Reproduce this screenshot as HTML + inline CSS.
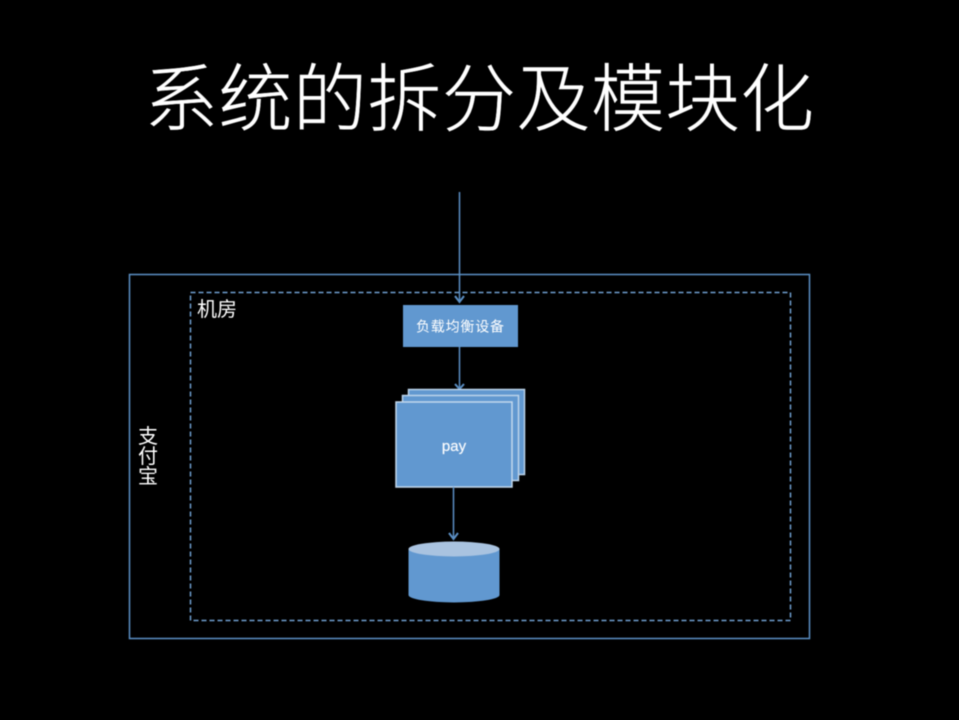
<!DOCTYPE html>
<html lang="zh">
<head>
<meta charset="utf-8">
<title>系统的拆分及模块化</title>
<style>
html,body{margin:0;padding:0;background:#000;width:959px;height:720px;overflow:hidden}
svg{display:block}
text{font-family:"Liberation Sans","Noto Sans CJK SC",sans-serif;fill:#fff}
</style>
</head>
<body>
<svg width="959" height="720" viewBox="0 0 959 720" xmlns="http://www.w3.org/2000/svg">
<rect width="959" height="720" fill="#000"/>
<g style="filter:blur(0.4px)">
<text x="144" y="125" font-size="74" font-weight="300" stroke="#fff" stroke-width="0.400" textLength="670" lengthAdjust="spacing">系统的拆分及模块化</text>

<rect x="129.500" y="274.500" width="680" height="364" fill="none" stroke="#5b8fc4" stroke-width="1.500"/>
<rect x="190.500" y="292.500" width="600" height="328" fill="none" stroke="#6f9fd0" stroke-width="1.500" stroke-dasharray="5 3"/>

<text x="197" y="316" font-size="20" fill="#f0f0f0">机房</text>
<text x="148" y="443" font-size="20" text-anchor="middle">支</text>
<text x="148" y="463" font-size="20" text-anchor="middle">付</text>
<text x="148" y="483" font-size="20" text-anchor="middle">宝</text>

<line x1="459.500" y1="192" x2="459.500" y2="302" stroke="#5b8fc4" stroke-width="1.500"/>
<path d="M455 296 L459.500 302 L464 296" fill="none" stroke="#5b8fc4" stroke-width="2"/>

<rect x="403" y="305" width="115" height="42" fill="#6198d0"/>
<text x="460" y="331.500" font-size="14" text-anchor="middle" fill="#f2f6fb" textLength="88" lengthAdjust="spacing">负载均衡设备</text>

<line x1="459.500" y1="347" x2="459.500" y2="389" stroke="#5b8fc4" stroke-width="1.500"/>
<path d="M455 384 L459.500 389 L464 384" fill="none" stroke="#5b8fc4" stroke-width="2"/>

<rect x="408.500" y="389.500" width="116" height="85" fill="#6198d0" stroke="#bcd3ea" stroke-width="1.500"/>
<rect x="402.500" y="395.500" width="116" height="85" fill="#6198d0" stroke="#bcd3ea" stroke-width="1.500"/>
<rect x="396" y="402" width="116" height="85" fill="#6198d0" stroke="#c3d8ec" stroke-width="1.500"/>
<text x="454" y="451" font-size="15" text-anchor="middle" fill="#f2f6fb" stroke="#f2f6fb" stroke-width="0.200">pay</text>

<line x1="453.500" y1="487" x2="453.500" y2="539" stroke="#5b8fc4" stroke-width="1.500"/>
<path d="M449 533 L453.500 539 L458 533" fill="none" stroke="#5b8fc4" stroke-width="2"/>

<path d="M408.500 549 L408.500 595 A45.500 7.500 0 0 0 499.500 595 L499.500 549 Z" fill="#6198d0"/>
<ellipse cx="454" cy="549" rx="45.500" ry="7.500" fill="#a9c3e0"/>
</g>
</svg>
</body>
</html>
